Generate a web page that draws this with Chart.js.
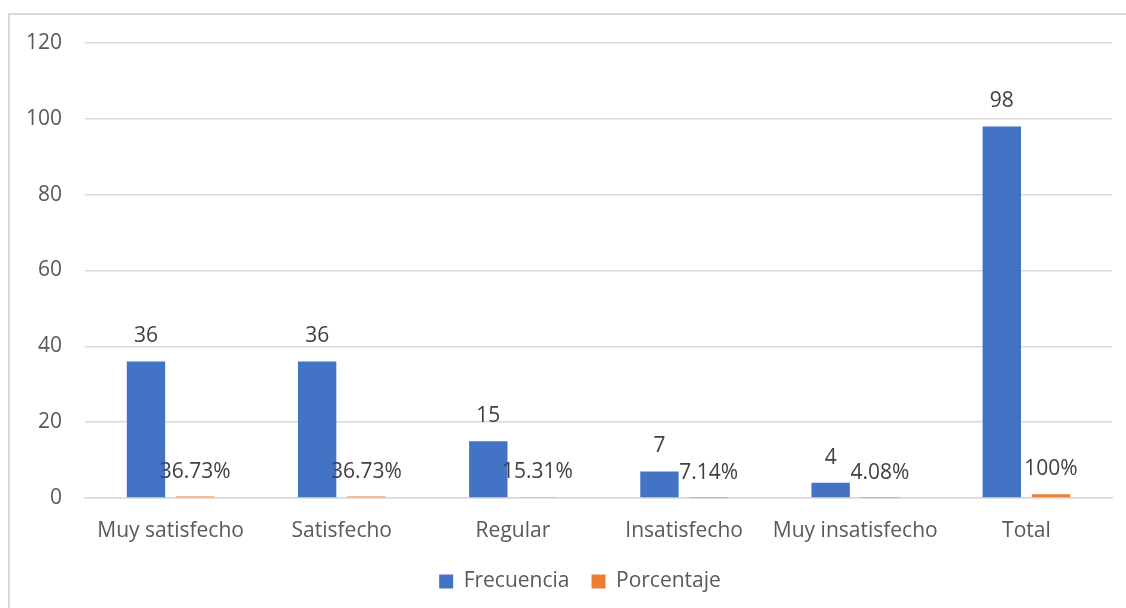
<!DOCTYPE html>
<html>
<head>
<meta charset="utf-8">
<script src="https://cdn.jsdelivr.net/npm/chart.js@4"></script>
<style>
  html, body { margin: 0; padding: 0; background: #fff; overflow: hidden; }
  #frame {
    position: absolute; left: 8px; top: 13px;
    width: 1140px; height: 620px;
    border: 2px solid #d9d9d9; box-sizing: border-box;
  }
  #wrap { position: absolute; left: 0; top: 0; width: 1126px; height: 608px; }
</style>
</head>
<body>
<div id="frame"></div>
<div id="wrap"><canvas id="chart"></canvas></div>
<script>
const categories = ["Muy satisfecho", "Satisfecho", "Regular", "Insatisfecho", "Muy insatisfecho", "Total"];
const frecuencia = [36, 36, 15, 7, 4, 98];
const porcentaje = [0.3673, 0.3673, 0.1531, 0.0714, 0.0408, 1];
const yTicks = [0, 20, 40, 60, 80, 100, 120];

const FONT = "'Open Sans', 'Noto Sans', sans-serif";
const SIZE = 21;

// value labels drawn above every bar
const barLabels = {
  id: "barLabels",
  afterDatasetsDraw(chart) {
    const ctx = chart.ctx;
    ctx.save();
    ctx.font = SIZE + "px " + FONT;
    ctx.fillStyle = "#404040";
    ctx.textAlign = "center";
    ctx.textBaseline = "middle";
    chart.data.datasets.forEach((ds, i) => {
      chart.getDatasetMeta(i).data.forEach((bar, j) => {
        const v = ds.data[j];
        const text = i === 0 ? String(v) : parseFloat((v * 100).toFixed(2)) + "%";
        ctx.fillText(text, bar.x, bar.y - 25);
      });
    });
    ctx.restore();
  }
};

// centre the legend under the whole frame rather than the plot
const legendShift = {
  id: "legendShift",
  afterLayout(chart) {
    chart.legend.left += 24;
    chart.legend.right += 24;
  }
};

new Chart(document.getElementById("chart"), {
  type: "bar",
  data: {
    labels: categories,
    datasets: [
      {
        label: "Frecuencia",
        data: frecuencia,
        backgroundColor: "#4472C4",
        categoryPercentage: 0.575,
        barPercentage: 0.78
      },
      {
        label: "Porcentaje",
        data: porcentaje,
        backgroundColor: "#ED7D31",
        categoryPercentage: 0.575,
        barPercentage: 0.78
      }
    ]
  },
  options: {
    responsive: true,
    maintainAspectRatio: false,
    animation: false,
    layout: { padding: { top: 43, right: 14, bottom: 6, left: 0 } },
    plugins: {
      tooltip: { enabled: false },
      legend: {
        position: "bottom",
        labels: {
          font: { family: FONT, size: SIZE },
          color: "#595959",
          boxWidth: 14,
          boxHeight: 14,
          padding: 22
        }
      }
    },
    scales: {
      x: {
        afterFit(scale) { scale.height = 51; },
        grid: { display: false, drawTicks: false },
        border: { display: true, color: "#d9d9d9", width: 1.5 },
        ticks: {
          font: { family: FONT, size: SIZE },
          color: "#595959",
          padding: 20,
          maxRotation: 0
        }
      },
      y: {
        min: 0,
        max: 120,
        afterBuildTicks(scale) {
          scale.ticks = yTicks.map(v => ({ value: v }));
        },
        afterFit(scale) { scale.width = 85; },
        grid: { color: "#d9d9d9", lineWidth: 1.5, drawTicks: false },
        border: { display: false },
        ticks: {
          font: { family: FONT, size: SIZE },
          color: "#595959",
          padding: 23
        }
      }
    }
  },
  plugins: [barLabels, legendShift]
});
</script>
</body>
</html>
